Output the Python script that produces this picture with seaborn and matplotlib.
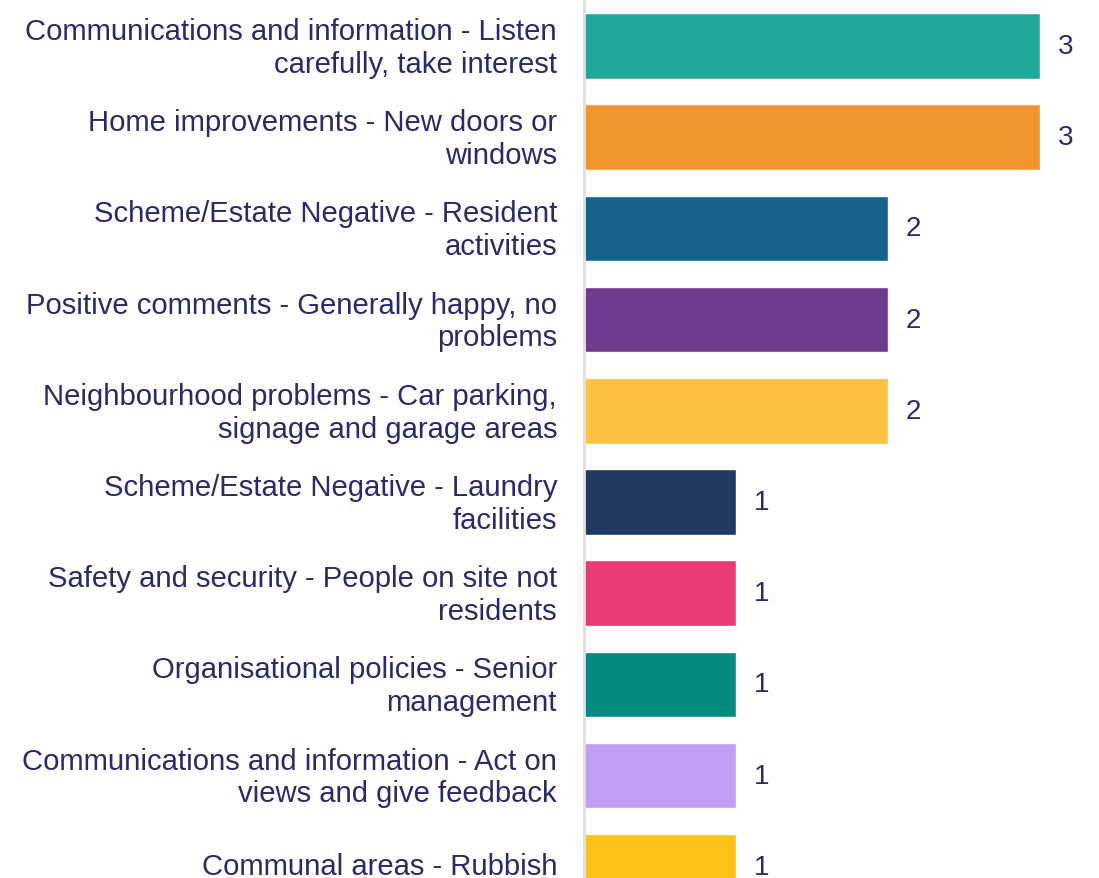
import pandas as pd
import matplotlib.pyplot as plt
import matplotlib.transforms as mtransforms
import seaborn as sns

# Data

labels = [
    "Communications and information - Listen\ncarefully, take interest",
    "Home improvements - New doors or\nwindows",
    "Scheme/Estate Negative - Resident\nactivities",
    "Positive comments - Generally happy, no\nproblems",
    "Neighbourhood problems - Car parking,\nsignage and garage areas",
    "Scheme/Estate Negative - Laundry\nfacilities",
    "Safety and security - People on site not\nresidents",
    "Organisational policies - Senior\nmanagement",
    "Communications and information - Act on\nviews and give feedback",
    "Communal areas - Rubbish",
]
counts = [3, 3, 2, 2, 2, 1, 1, 1, 1, 1]
colors = [
    "#22A89A", "#F2952F", "#15638A", "#6F3B8E", "#FEC240",
    "#213862", "#EA3A72", "#048A7E", "#C39EF5", "#FDC218",
]

df = pd.DataFrame({"label": labels, "count": counts})

text_color = "#2C2A64"

sns.set_style("white")
plt.rcParams["font.family"] = ["Liberation Sans", "DejaVu Sans"]

fig = plt.figure(figsize=(10.99, 8.79), dpi=100)
ax = fig.add_axes([584 / 1099, 0, (1099 - 584) / 1099, 1])

sns.barplot(
    data=df,
    x="count",
    y="label",
    hue="label",
    palette=colors,
    legend=False,
    width=0.72,
    saturation=1,
    ax=ax
)

# Value labels

for i, v in enumerate(counts):
    ax.text(v + 0.115, i, str(v), va="center", ha="left",
            fontsize=20, color=text_color)

ax.set_xlim(0, (1099 - 584) / 152)
ax.set_ylim((879 - 47) / 91.2, -47 / 91.2)

ax.set_xlabel("")
ax.set_ylabel("")
ax.set_xticks([])
ax.tick_params(axis="y", length=0, pad=19.4, labelsize=21.1, labelcolor=text_color)

# labels sit a little higher than the bar centres in the original
shift = mtransforms.ScaledTranslation(0, 4 / 100, fig.dpi_scale_trans)
for lbl in ax.get_yticklabels():
    lbl.set_horizontalalignment("right")
    lbl.set_linespacing(1.22)
    lbl.set_transform(lbl.get_transform() + shift)

for side in ["top", "right", "bottom"]:
    ax.spines[side].set_visible(False)
ax.spines["left"].set_color("#E0E0E0")
ax.spines["left"].set_linewidth(2)

plt.savefig("out.png", dpi=100)
